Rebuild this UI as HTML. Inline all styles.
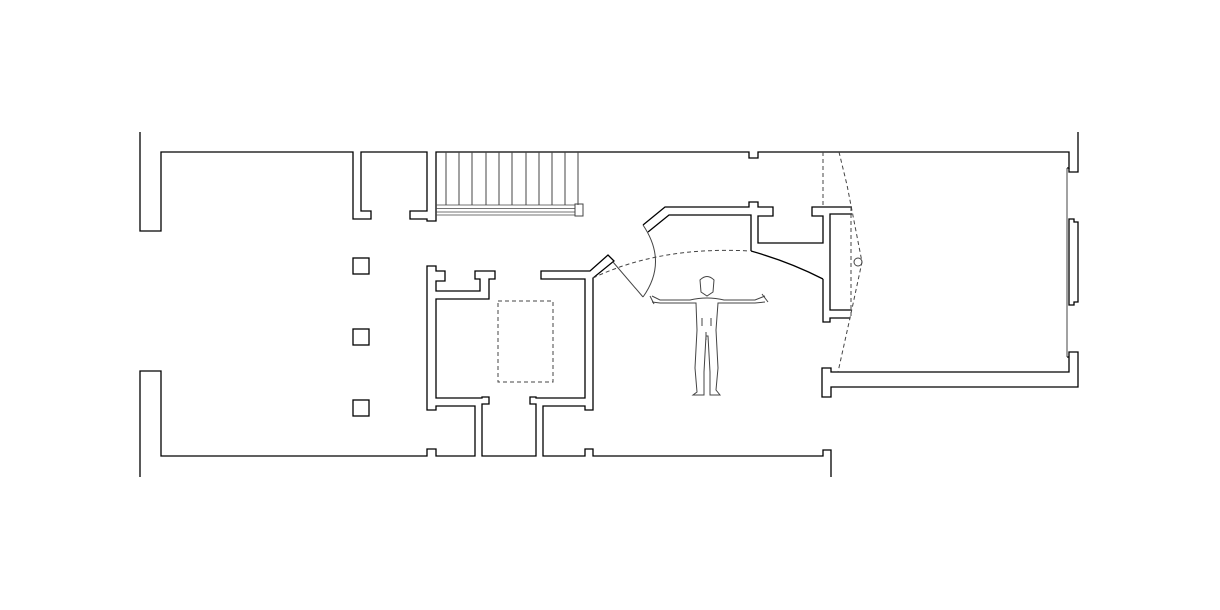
<!DOCTYPE html>
<html><head><style>html,body{margin:0;padding:0;background:#fff}svg{display:block}</style></head><body>
<svg width="1220" height="610" viewBox="0 0 1220 610" xmlns="http://www.w3.org/2000/svg">
<g fill="none" stroke="#000" stroke-width="1.3" stroke-linejoin="miter">
<path d="M140,132 V231 H161 V152 H353 V219 H371 V211 H361 V152 H427 V211 H410 V219 H427 V221 H436 V152 H749 V158 H758 V152 H1069 V168 H1067"/>
<path d="M1078,132 V172 H1069 V168"/>
<path d="M1069,219 H1074 V222 H1078 V302 H1074 V305 H1069 Z"/>
<path d="M140,477 V371 H161 V456 H427 V449 H436 V456 H475 V406 H436 V410 H427 V266 H436 V271 H445 V281 H436 V291 H480 V279 H475 V271 H495 V279 H489 V299 H436 V398 H482 V397 H489 V404 H482 V456 H536 V404 H530 V397 H536 V398 H585 V279 H541 V271 H590 L608,255 L614,261 L593,278 V410 H585 V406 H543 V456 H585 V449 H593 V456 H823 V450 H831 V477"/>
<path d="M643,225 L665,207 H749 V202 H758 V207 H773 V216 H758 V243 H823 V216 H812 V207 H852 M648,232 L669,215 H751 V251"/>
<path d="M852,214 H830 V310 H852 M850,318 H830 V322 H823 V279"/>
<path d="M1067,357 H1069 V352 H1078 V387 H831 V397 H822 V368 H831 V372 H1069 V357"/>
<rect x="353" y="258" width="16" height="16"/>
<rect x="353" y="329" width="16" height="16"/>
<rect x="353" y="400" width="16" height="16"/>
<path d="M751,251 Q790,262 823,279"/>
</g>
<g fill="none" stroke="#444" stroke-width="1">
<line x1="1067" y1="168" x2="1067" y2="357"/>
<line x1="446" y1="152" x2="446" y2="205"/><line x1="459" y1="152" x2="459" y2="205"/><line x1="472" y1="152" x2="472" y2="205"/><line x1="486" y1="152" x2="486" y2="205"/><line x1="499" y1="152" x2="499" y2="205"/><line x1="512" y1="152" x2="512" y2="205"/><line x1="526" y1="152" x2="526" y2="205"/><line x1="539" y1="152" x2="539" y2="205"/><line x1="552" y1="152" x2="552" y2="205"/><line x1="565" y1="152" x2="565" y2="205"/><line x1="578" y1="152" x2="578" y2="205"/>
<g stroke-width="0.7">
<line x1="436" y1="205" x2="575" y2="205"/><line x1="436" y1="208.5" x2="575" y2="208.5"/><line x1="436" y1="212" x2="575" y2="212"/><line x1="436" y1="215" x2="575" y2="215"/>
</g>
<rect x="575" y="204" width="8" height="12"/>
<line x1="613" y1="262" x2="643" y2="297"/>
<path d="M643,297 Q668,262 643,225"/>
<circle cx="858" cy="262" r="4"/>
<path d="M700,280 Q707,273 714,280 L713,292 L707,296 L701,292 Z"/>
<path d="M652,296 L660,300 H690 Q707,296 724,300 H755 L765,296 M652,302 L660,303 H696 L697,330 L695,368 L697,392 L693,395 H704 L704,372 L706,336 H708 L710,372 L710,395 H720 L716,390 L718,368 L716,330 L718,303 H755 L765,302"/>
<path d="M650,296 l4,8 M762,294 l6,8 M702,318 l0,8 M711,318 l0,8 M706,332 v8"/>
</g>
<g fill="none" stroke="#444" stroke-width="1" stroke-dasharray="4,3">
<rect x="498" y="301" width="55" height="81"/>
<path d="M593,278 Q660,246 750,251"/>
<line x1="823" y1="152" x2="823" y2="207"/>
<path d="M839,152 L847,185 L862,262 L850,318 L838,372"/>
<line x1="851" y1="207" x2="851" y2="318"/>
</g>
</svg>
</body></html>
